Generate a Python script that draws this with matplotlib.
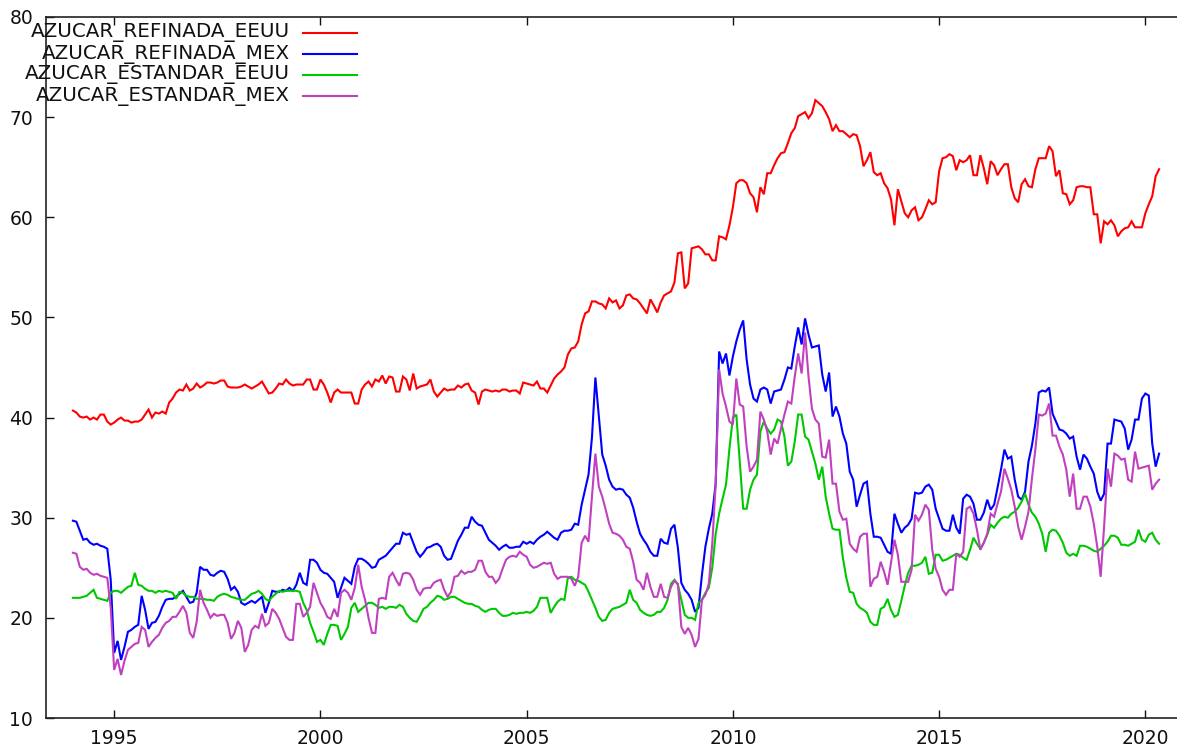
import numpy as np
import pandas as pd
import matplotlib
matplotlib.use("Agg")
import matplotlib.pyplot as plt
from matplotlib.lines import Line2D

# monthly series, Jan 1994 .. May 2020 (one row per year)
refinada_eeuu = [
    40.7, 40.5, 40.1, 40.0, 40.1, 39.8, 40.0, 39.8, 40.3, 40.3, 39.6, 39.3,
    39.5, 39.8, 40.0, 39.7, 39.7, 39.5, 39.6, 39.6, 39.8, 40.3, 40.8, 40.0,
    40.5, 40.4, 40.6, 40.4, 41.5, 41.9, 42.5, 42.8, 42.7, 43.3, 42.7, 42.9,
    43.4, 43.0, 43.2, 43.5, 43.5, 43.4, 43.5, 43.7, 43.7, 43.1, 43.0, 43.0,
    43.0, 43.1, 43.3, 43.1, 42.9, 43.1, 43.3, 43.6, 43.0, 42.4, 42.5, 42.9,
    43.4, 43.3, 43.8, 43.4, 43.2, 43.3, 43.3, 43.3, 43.8, 43.8, 42.8, 42.8,
    43.8, 43.3, 42.5, 41.5, 42.5, 42.8, 42.5, 42.5, 42.5, 42.5, 41.4, 41.4,
    42.8, 43.3, 43.6, 43.1, 43.8, 43.6, 44.2, 43.4, 44.1, 44.0, 42.6, 42.6,
    44.1, 43.8, 42.7, 44.4, 42.9, 43.1, 43.2, 43.3, 43.8, 42.6, 42.1, 42.5,
    42.9, 42.7, 42.8, 42.8, 43.2, 43.0, 43.3, 43.4, 42.7, 42.5, 41.3, 42.6,
    42.8, 42.7, 42.6, 42.7, 42.6, 42.8, 42.8, 42.6, 42.7, 42.7, 42.4, 43.5,
    43.4, 43.3, 43.2, 43.6, 42.9, 42.9, 42.5, 43.2, 43.9, 44.3, 44.6, 45.0,
    46.3, 46.9, 47.0, 47.6, 49.3, 50.4, 50.6, 51.6, 51.6, 51.4, 51.3, 50.9,
    51.9, 51.5, 51.7, 50.9, 51.2, 52.2, 52.3, 51.9, 51.8, 51.4, 50.9, 50.4,
    51.8, 51.2, 50.5, 51.5, 52.2, 52.4, 52.6, 53.5, 56.4, 56.5, 52.9, 53.4,
    56.9, 57.0, 57.1, 56.8, 56.3, 56.3, 55.7, 55.7, 58.1, 58.0, 57.8, 59.2,
    61.0, 63.4, 63.7, 63.7, 63.4, 62.4, 62.0, 60.5, 63.0, 62.3, 64.4, 64.4,
    65.2, 65.9, 66.4, 66.5, 67.4, 68.4, 68.9, 70.1, 70.3, 70.5, 69.9, 70.4,
    71.7, 71.4, 71.1, 70.5, 69.8, 68.6, 69.2, 68.6, 68.6, 68.3, 68.0, 68.3,
    68.2, 67.1, 65.1, 65.7, 66.5, 64.5, 64.2, 64.4, 63.4, 62.9, 61.8, 59.2,
    62.8, 61.6, 60.4, 60.0, 60.7, 61.0, 59.7, 60.0, 60.8, 61.7, 61.3, 61.5,
    64.6, 65.9, 66.0, 66.3, 66.1, 64.7, 65.7, 65.5, 65.7, 66.2, 64.2, 64.2,
    66.2, 64.9, 63.3, 65.6, 65.2, 64.2, 64.8, 65.3, 65.3, 63.0, 61.9, 61.5,
    63.3, 63.8, 63.1, 63.0, 64.8, 65.9, 65.9, 65.9, 67.1, 66.6, 64.1, 64.7,
    62.4, 62.3, 61.3, 61.7, 63.0, 63.1, 63.1, 63.0, 63.0, 60.3, 60.3, 57.4,
    59.6, 59.3, 59.7, 59.2, 58.1, 58.6, 58.9, 59.0, 59.6, 59.0, 59.0, 59.0,
    60.4, 61.3, 62.1, 64.1, 64.8,
]

refinada_mex = [
    29.7, 29.6, 28.7, 27.8, 27.9, 27.5, 27.3, 27.4, 27.2, 27.1, 26.9, 23.8,
    16.5, 17.7, 15.8, 17.1, 18.6, 18.8, 19.1, 19.3, 22.2, 20.8, 18.9, 19.5,
    19.6, 20.2, 21.1, 21.8, 21.9, 21.9, 22.1, 22.4, 22.7, 22.1, 21.5, 21.6,
    22.5, 25.1, 24.8, 24.8, 24.3, 24.2, 24.5, 24.7, 24.6, 23.9, 22.8, 23.1,
    22.6, 21.5, 21.3, 21.5, 21.7, 21.5, 21.8, 22.1, 20.5, 21.5, 22.7, 22.6,
    22.6, 22.8, 22.7, 23.0, 22.7, 23.3, 24.5, 23.5, 23.3, 25.8, 25.8, 25.5,
    24.8, 24.5, 24.4, 24.0, 23.6, 22.0, 23.0, 24.0, 23.7, 23.4, 25.1, 25.9,
    25.9, 25.7, 25.4, 25.0, 25.1, 25.8, 26.0, 26.2, 26.6, 27.0, 27.4, 27.4,
    28.5, 28.3, 28.4, 27.5, 26.6, 26.1, 26.5, 27.0, 27.1, 27.3, 27.4, 27.1,
    26.2, 25.8, 25.9, 26.8, 27.7, 28.3, 29.0, 29.0, 30.1, 29.6, 29.3, 29.2,
    28.5, 27.8, 27.5, 27.2, 26.8, 27.1, 27.3, 27.0, 27.0, 27.1, 27.1, 27.6,
    27.4, 27.6, 27.4, 27.8, 28.1, 28.3, 28.6, 28.3, 28.0, 27.8, 28.5, 28.7,
    28.7, 28.8, 29.4, 29.3, 31.3, 32.8, 34.3, 38.0, 44.0, 40.2, 36.3, 35.2,
    33.8, 33.1, 32.8, 32.9, 32.8, 32.3, 32.0, 31.0, 29.6, 28.4, 27.8, 27.3,
    26.6, 26.2, 26.2, 27.9, 27.5, 27.4, 28.9, 29.3, 27.0, 23.5, 22.8, 22.4,
    21.8, 20.6, 21.0, 24.3, 27.1, 28.9, 30.4, 33.4, 46.6, 45.4, 46.4, 44.2,
    46.1, 47.6, 48.8, 49.7, 45.8, 43.3, 41.9, 41.6, 42.8, 43.0, 42.8, 41.4,
    42.6, 42.7, 42.8, 43.8, 45.0, 44.9, 47.1, 49.0, 47.3, 49.9, 48.3, 47.0,
    47.1, 47.2, 44.3, 42.6, 44.5, 40.1, 41.1, 40.1, 38.4, 37.4, 34.6, 33.8,
    31.1, 32.3, 33.4, 33.6, 30.4, 28.1, 28.1, 28.0, 27.3, 26.6, 26.4, 30.4,
    29.4, 28.5, 29.0, 29.3, 29.9, 32.5, 32.4, 32.5, 33.1, 33.3, 32.8, 30.9,
    29.9, 28.9, 28.7, 28.7, 30.3, 29.0, 28.4, 31.9, 32.3, 32.1, 31.4, 29.8,
    29.8, 30.5, 31.8, 30.8, 31.3, 33.0, 34.8, 36.8, 35.9, 36.1, 33.8, 32.1,
    31.8, 32.6, 35.6, 37.2, 39.4, 42.5, 42.7, 42.6, 43.0, 40.4, 39.6, 38.8,
    38.7, 38.4, 37.9, 38.1, 36.1, 34.8, 36.3, 35.9, 35.1, 34.4, 32.6, 31.7,
    32.4, 37.4, 37.4, 39.8, 39.7, 39.6, 38.9, 36.8, 37.8, 39.8, 39.8, 41.9,
    42.4, 42.2, 37.4, 35.1, 36.4,
]

estandar_eeuu = [
    22.0, 22.0, 22.0, 22.1, 22.2, 22.5, 22.8, 22.0, 21.9, 21.8, 21.7, 22.5,
    22.7, 22.7, 22.5, 22.8, 23.1, 23.2, 24.5, 23.3, 23.2, 22.9, 22.7, 22.7,
    22.5, 22.7, 22.6, 22.7, 22.6, 22.5, 21.9, 22.6, 22.5, 22.2, 22.1, 22.1,
    21.9, 21.9, 21.9, 21.8, 21.8, 21.7, 22.1, 22.3, 22.4, 22.3, 22.1, 22.0,
    21.9, 21.8, 21.8, 22.1, 22.4, 22.5, 22.7, 22.4, 21.9, 21.7, 22.1, 22.4,
    22.7, 22.6, 22.7, 22.7, 22.7, 22.7, 22.6, 21.5, 20.8, 19.5, 18.6, 17.6,
    17.8, 17.3, 18.4, 19.3, 19.3, 19.2, 17.8, 18.4, 19.1, 21.0, 21.5, 20.6,
    20.9, 21.2, 21.5, 21.5, 21.3, 21.0, 21.1, 20.9, 21.1, 21.1, 21.0, 21.3,
    21.1, 20.4, 20.0, 19.7, 19.6, 20.2, 20.9, 21.1, 21.5, 21.8, 22.2, 22.1,
    21.8, 21.9, 22.1, 22.1, 21.9, 21.7, 21.5, 21.4, 21.4, 21.2, 21.1, 20.8,
    20.6, 20.8, 20.9, 20.9, 20.5, 20.2, 20.2, 20.3, 20.5, 20.4, 20.5, 20.5,
    20.6, 20.5, 20.7, 21.1, 22.0, 22.0, 22.0, 20.5, 21.1, 21.6, 21.9, 21.8,
    24.0, 24.1, 23.8, 23.7, 23.5, 23.3, 22.6, 21.8, 21.0, 20.1, 19.7, 19.8,
    20.5, 20.9, 21.0, 21.1, 21.3, 21.5, 22.8, 21.8, 21.5, 20.8, 20.5, 20.3,
    20.2, 20.3, 20.6, 20.6, 21.0, 21.8, 23.4, 23.8, 23.3, 21.8, 20.3, 20.0,
    20.0, 19.8, 21.5, 21.8, 22.5, 23.0, 25.0, 28.4, 30.4, 31.9, 33.3, 36.9,
    40.0, 40.3, 35.6, 30.9, 30.9, 32.8, 33.8, 34.3, 38.6, 39.6, 38.9, 38.4,
    38.8, 39.8, 39.6, 38.1, 35.2, 35.6, 37.6, 40.3, 40.3, 38.1, 37.8, 36.6,
    35.4, 33.8, 35.1, 32.1, 30.4, 28.9, 28.8, 28.8, 26.0, 24.0, 22.6, 22.5,
    21.4, 21.0, 20.8, 20.5, 19.6, 19.3, 19.3, 20.9, 21.1, 21.9, 20.8, 20.1,
    20.3, 21.7, 23.2, 24.5, 25.2, 25.2, 25.3, 25.5, 26.1, 24.4, 24.5, 26.3,
    26.3, 25.7, 25.8, 26.0, 26.2, 26.4, 26.3, 26.0, 25.8, 26.8, 28.0, 27.4,
    26.9, 27.5, 28.3, 29.3, 29.0, 29.5, 29.9, 30.1, 30.0, 30.4, 30.6, 31.0,
    31.6, 32.4, 31.3, 30.5, 30.1, 29.4, 28.4, 26.6, 28.5, 28.8, 28.7, 28.2,
    27.5, 26.5, 26.2, 26.4, 26.2, 27.2, 27.2, 27.1, 26.9, 26.7, 26.6, 26.9,
    27.2, 27.6, 28.2, 28.2, 28.0, 27.3, 27.3, 27.2, 27.4, 27.6, 28.8, 27.8,
    27.6, 28.3, 28.5, 27.8, 27.4,
]

estandar_mex = [
    26.5, 26.4, 25.1, 24.8, 24.9, 24.5, 24.3, 24.4, 24.2, 24.1, 24.0, 21.0,
    14.8, 15.9, 14.3, 15.7, 16.8, 17.1, 17.4, 17.5, 19.1, 18.8, 17.1, 17.6,
    18.0, 18.3, 19.0, 19.5, 19.7, 20.1, 20.1, 20.6, 21.2, 20.5, 18.5, 18.0,
    19.6, 22.8, 21.5, 20.8, 20.0, 20.4, 20.2, 20.3, 20.3, 19.5, 17.9, 18.5,
    19.7, 19.0, 16.6, 17.3, 18.8, 19.2, 19.0, 20.4, 19.2, 19.5, 20.9, 20.5,
    19.9, 19.0, 18.1, 17.8, 17.8, 21.4, 21.4, 20.1, 20.5, 21.1, 23.5, 22.5,
    21.5, 20.9, 20.1, 19.9, 20.9, 20.1, 22.5, 22.8, 22.5, 21.8, 23.0, 25.3,
    23.1, 21.8, 20.0, 18.5, 18.5, 21.9, 22.0, 21.9, 24.1, 24.5, 23.8, 23.2,
    24.4, 24.5, 24.4, 23.8, 22.8, 22.3, 22.9, 23.0, 23.0, 23.5, 23.7, 23.8,
    22.8, 22.1, 22.6, 24.1, 24.2, 24.7, 24.4, 24.6, 24.6, 24.8, 25.7, 25.7,
    24.6, 24.1, 24.1, 23.5, 23.9, 24.9, 25.8, 26.1, 26.2, 26.1, 26.6, 26.3,
    26.1, 25.3, 25.0, 25.1, 25.3, 25.5, 25.4, 25.5, 24.4, 23.9, 24.1, 24.1,
    24.1, 23.9, 23.2, 24.1, 27.5, 28.2, 27.6, 32.1, 36.4, 33.1, 32.1, 30.8,
    29.4, 28.5, 28.4, 28.2, 27.8, 27.1, 26.9, 25.6, 23.8, 23.5, 22.8, 24.5,
    23.1, 22.1, 22.1, 23.4, 22.1, 22.0, 23.1, 23.7, 23.4, 19.1, 18.4, 19.0,
    18.3, 17.1, 17.9, 21.8, 22.3, 23.4, 27.4, 33.4, 44.8, 42.4, 41.1, 39.6,
    39.3, 43.9, 41.3, 41.1, 37.1, 34.6, 35.1, 35.8, 40.6, 39.8, 38.6, 36.3,
    37.9, 37.4, 38.9, 40.3, 41.6, 41.4, 44.1, 46.4, 44.4, 48.5, 44.1, 40.9,
    39.8, 39.4, 36.1, 36.0, 37.8, 33.4, 33.4, 30.6, 29.8, 29.9, 27.4, 26.9,
    26.6, 28.1, 28.4, 28.4, 23.1, 23.9, 24.1, 25.6, 24.6, 23.3, 25.5, 27.8,
    26.3, 23.6, 23.6, 23.6, 24.8, 30.3, 29.7, 30.3, 31.3, 30.8, 26.8, 24.9,
    24.1, 22.8, 22.3, 22.8, 22.8, 26.4, 26.1, 26.6, 30.9, 31.1, 30.4, 28.8,
    26.8, 27.5, 28.4, 30.4, 30.1, 31.4, 32.6, 34.9, 33.9, 32.8, 31.1, 29.1,
    27.8, 29.1, 30.6, 33.9, 36.8, 40.3, 40.2, 40.4, 41.4, 38.2, 38.2, 37.1,
    36.3, 34.8, 32.1, 34.4, 30.9, 30.9, 32.1, 32.1, 31.1, 29.4, 27.1, 24.1,
    29.1, 34.9, 33.1, 36.4, 36.2, 35.8, 35.9, 33.8, 33.6, 36.6, 34.9, 35.0,
    35.1, 35.2, 32.8, 33.4, 33.8,
]

labels = ["AZUCAR_REFINADA_EEUU", "AZUCAR_REFINADA_MEX",
          "AZUCAR_ESTANDAR_EEUU", "AZUCAR_ESTANDAR_MEX"]
colors = ["#ff0000", "#0000ff", "#00c800", "#c040c0"]
series = [refinada_eeuu, refinada_mex, estandar_eeuu, estandar_mex]

dates = pd.date_range("1994-01-01", periods=len(refinada_eeuu), freq="MS")
x = dates.year + (dates.month - 1) / 12.0

W, H = 1177, 746
fig = plt.figure(figsize=(W / 100, H / 100), dpi=100)
ax = fig.add_axes([45.7 / W, 28 / H, (1180 - 45.7) / W, (718 - 17) / H])

for vals, c in zip(series, colors):
    ax.plot(x, vals, color=c, lw=1.5, solid_joinstyle="miter")

ax.set_xlim(1993.34, 2020.84)
ax.set_ylim(10, 80)
ax.set_xticks(range(1995, 2021, 5))
ax.set_yticks(range(10, 81, 10))
ax.tick_params(direction="in", length=6, width=1, top=True, right=False,
               labelsize=13.5, colors="#111111")
ax.tick_params(axis="x", pad=8)
ax.tick_params(axis="y", pad=9)
for s in ax.spines.values():
    s.set_linewidth(1.2)
    s.set_color("#222222")

# gnuplot style key: right aligned text, sample line to the right
rows = [33, 54, 75, 96]
for lab, c, yp in zip(labels, colors, rows):
    yf = 1 - yp / H
    fig.text(290 / W, yf, lab, ha="right", va="center", fontsize=14.3,
             color="#111111", zorder=10)
    fig.add_artist(Line2D([303 / W, 357 / W], [yf, yf], color=c, lw=1.5,
                          transform=fig.transFigure))

fig.savefig("out.png", dpi=100)
